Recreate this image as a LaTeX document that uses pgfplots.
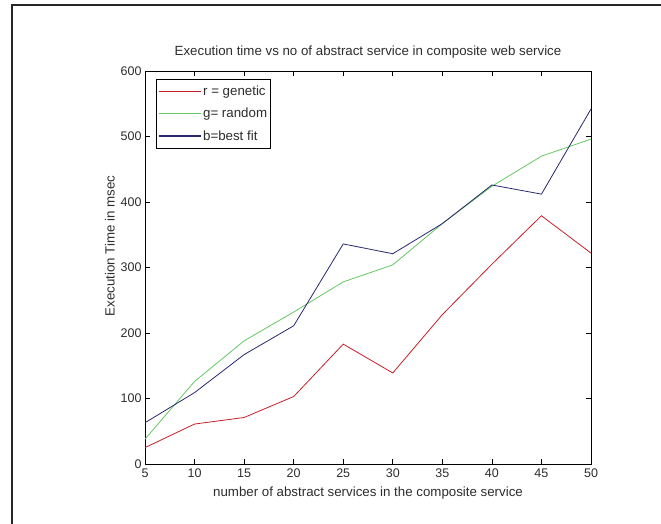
\documentclass[border=0pt]{standalone}
\usepackage{fontspec}
\setmainfont{Liberation Sans}
\usepackage{pgfplots}
\pgfplotsset{compat=1.18}
\definecolor{mred}{RGB}{200,30,40}
\definecolor{mgreen}{RGB}{100,200,100}
\definecolor{mblue}{RGB}{40,40,110}
\definecolor{txt}{RGB}{45,45,45}
\begin{document}
\begin{tikzpicture}[x=1pt,y=1pt]
\useasboundingbox (0,0) rectangle (661,524);
\draw[line width=2pt, black!85] (12,-2) -- (12,519) -- (663,519);
\begin{axis}[
  at={(145pt,60pt)}, anchor=south west,
  width=446pt, height=393pt, scale only axis,
  xmin=5, xmax=50, ymin=0, ymax=600,
  xtick={5,10,...,50}, ytick={0,100,...,600},
  tick align=inside, major tick length=5pt,
  tick style={black, line width=0.6pt},
  axis line style={black, line width=0.8pt},
  /pgf/number format/assume math mode=true,
  tick label style={font=\fontsize{12.5}{14}\selectfont, text=txt},
  xticklabel style={yshift=-1pt},
  label style={font=\fontsize{13.3}{15}\selectfont, text=txt},
  title style={font=\fontsize{13.3}{15}\selectfont, text=txt, yshift=3pt},
  title={Execution time vs no of abstract service in composite web service},
  xlabel={number of abstract services in the composite service},
  xlabel style={yshift=-3pt},
  ylabel={Execution Time in msec},
  ylabel style={at={(axis description cs:-0.06,0.555)}},
  legend style={at={(0.025,0.98)}, anchor=north west, draw=black, line width=0.6pt,
    font=\fontsize{13.3}{15}\selectfont, text=txt, inner sep=1.5pt,
    nodes={inner ysep=5.5pt}},
  legend cell align=left,
  legend image code/.code={\draw[line width=1.2pt,#1] (0pt,0pt) -- (42pt,0pt);},
]
\addplot[draw=mred, line width=0.8pt] coordinates {(5,25) (10,61) (15,71) (20,103) (25,183) (30,139) (35,228) (40,305) (45,379) (50,322)};
\addlegendentry{r = genetic}
\addplot[draw=mgreen, line width=0.8pt] coordinates {(5,38) (10,126) (15,188) (20,232) (25,278) (30,304) (35,367) (40,424) (45,470) (50,496)};
\addlegendentry{g= random}
\addplot[draw=mblue, line width=0.8pt] coordinates {(5,63) (10,109) (15,167) (20,211) (25,336) (30,321) (35,367) (40,426) (45,412) (50,542)};
\addlegendentry{b=best fit}
\end{axis}
\end{tikzpicture}
\end{document}
